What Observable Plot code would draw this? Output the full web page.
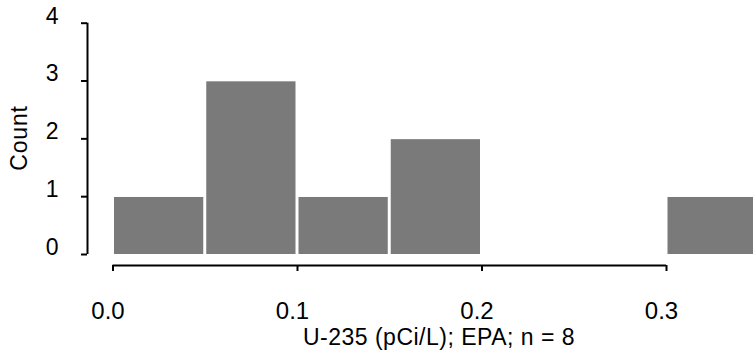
<!DOCTYPE html>
<html><head><meta charset="utf-8">
<script src="https://cdn.jsdelivr.net/npm/d3@7"></script>
<script src="https://cdn.jsdelivr.net/npm/@observablehq/plot@0.6"></script>
<style>html,body{margin:0;padding:0;background:#fff;overflow:hidden} svg{display:block}</style>
</head><body><div id="chart"></div>
<script>
const binStarts = [0.00, 0.05, 0.10, 0.15, 0.30];
const binEnds   = [0.05, 0.10, 0.15, 0.20, 0.35];
const counts    = [1, 3, 1, 2, 1];
const xTicks = [0, 0.1, 0.2, 0.3];
const xTickLabels = ["0.0", "0.1", "0.2", "0.3"];
const yTicks = [0, 1, 2, 3, 4];
const xLabel = "U-235 (pCi/L); EPA; n = 8";
const yLabel = "Count";

const bins = counts.map((c, i) => ({x1: binStarts[i], x2: binEnds[i], count: c}));
const font = "'Liberation Sans', Arial, Helvetica, sans-serif";

const chart = Plot.plot({
  width: 753, height: 362,
  marginLeft: 87, marginRight: 0, marginTop: 23, marginBottom: 97,
  style: {fontFamily: font, background: "#fff", color: "#000"},
  x: {domain: [0, 0.3], range: [112.5, 666]},
  y: {domain: [0, 4], range: [254, 22.7]},
  marks: [
    Plot.rectY(bins, {x1: "x1", x2: "x2", y1: 0, y2: "count", fill: "#7a7a7a", insetLeft: 1.5, insetRight: 1.5, insetTop: 0.8}),
    Plot.ruleX([0], {y1: 0, y2: 4, dx: -25.5, stroke: "#000", strokeWidth: 2}),
    Plot.axisY({ticks: yTicks, tickSize: 6, tickFormat: () => "", stroke: "#000", strokeWidth: 2, label: null}),
    Plot.axisY({ticks: yTicks, tickSize: 0, tickPadding: 29, tickFormat: d => String(d), fontSize: 23, dy: -7, label: null}),
    Plot.ruleY([0], {x1: 0, x2: 0.3, dy: 11, stroke: "#000", strokeWidth: 2}),
    Plot.axisX({ticks: xTicks, tickSize: 6, tickFormat: () => "", stroke: "#000", strokeWidth: 2, label: null}),
    Plot.axisX({ticks: xTicks, tickSize: 0, tickPadding: 36, tickFormat: d => xTickLabels[xTicks.indexOf(d)], fontSize: 24, dx: -5, label: null}),
    Plot.text([xLabel], {frameAnchor: "bottom", dx: 18.5, dy: 79, lineAnchor: "bottom", fontSize: 23}),
    Plot.text([yLabel], {frameAnchor: "left", rotate: -90, dx: -68, dy: -6.5, lineAnchor: "middle", textAnchor: "middle", fontSize: 23})
  ]
});
d3.select(chart).selectAll("text").filter(function(){ return this.textContent === xLabel; }).style("letter-spacing", "0.5px");
d3.select(chart).selectAll("text").filter(function(){ return this.textContent === yLabel; }).style("letter-spacing", "0.8px");
document.getElementById("chart").appendChild(chart);
</script>
</body></html>
